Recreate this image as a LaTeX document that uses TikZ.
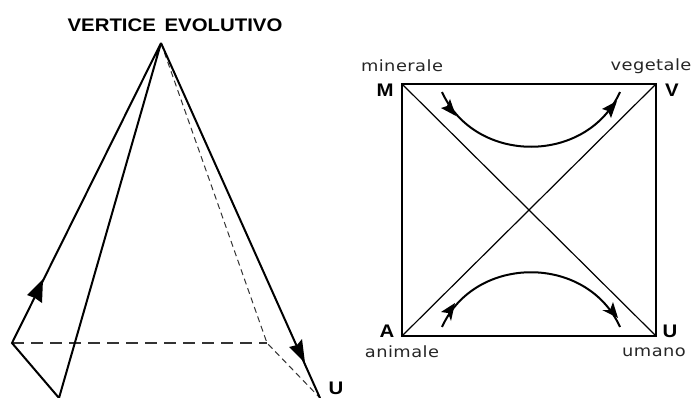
\documentclass[tikz,border=0pt]{standalone}
\usepackage{fontspec}
\setmainfont{Liberation Sans}
\newfontfamily\bigfont[FakeStretch=1.12]{Liberation Sans Bold}
\newfontfamily\smallfont[FakeStretch=1.15,LetterSpace=3]{DejaVu Sans}
\tikzset{
 x=1pt,y=-1pt,
 thick line/.style={line width=2pt,line join=miter},
 thin line/.style={line width=1.2pt},
 dash long/.style={line width=1.1pt,dash pattern=on 12pt off 7pt,black!80},
 dash short/.style={line width=1pt,dash pattern=on 6pt off 4pt,black!80},
 headfill/.style={fill=black,draw=none},
 small label/.style={font=\smallfont\fontsize{15.5pt}{16pt}\selectfont,inner sep=0pt,text=black!85},
 big label/.style={font=\bigfont\fontsize{18.2pt}{19pt}\selectfont,inner sep=0pt},
}
\begin{document}
\begin{tikzpicture}
\useasboundingbox (0,0) rectangle (692,398);
% pyramid
\coordinate (apex) at (161,43);
\coordinate (left) at (12,343);
\coordinate (front) at (59,398);
\coordinate (back) at (267,343);
\coordinate (right) at (320,398);
\draw[dash long] (left) -- (back);
\draw[dash short] (apex) -- (back) -- (right);
\draw[thick line] (front) -- (left) -- (apex) -- (front);
\draw[thick line] (apex) -- (right);
\fill[headfill] (43,279) -- (27,295) -- (35,298) -- (42,303) -- cycle;
\fill[headfill] (305,363) -- (289,347) -- (297,345) -- (302,339) -- cycle;
\node[big label] (title) at (175,25) {VERTICE\hspace{3pt} EVOLUTIVO};
\node[big label] (ubottom) at (336,388) {U};
% square
\coordinate (M) at (402,84);
\coordinate (V) at (656,84);
\coordinate (A) at (402,336);
\coordinate (Us) at (656,336);
\draw[thick line] (M) -- (V) -- (Us) -- (A) -- cycle;
\draw[thin line] (M) -- (Us);
\draw[thin line] (A) -- (V);
\node[big label] (lm) at (385,90) {M};
\node[big label] (lv) at (672,90) {V};
\node[big label] (la2) at (387,331) {A};
\node[big label] (lu) at (670,331) {U};
\node[small label] (minerale) at (402,66) {minerale};
\node[small label] (vegetale) at (651,66) {vegetale};
\node[small label] (animale) at (402,352) {animale};
\node[small label] (umano) at (654,352) {umano};
% arcs
\coordinate (t1) at (442,92);
\coordinate (t2) at (620,92);
\coordinate (b1) at (442,327);
\coordinate (b2) at (620,327);
\draw[thick line] (t1) .. controls (475,165) and (587,165) .. (t2);
\draw[thick line] (b1) .. controls (475,254) and (587,254) .. (b2);
\fill[headfill] (456,116) -- (441,108) -- (447,106) -- (450,99) -- cycle;
\fill[headfill] (617,101) -- (602,109) -- (608,111) -- (611,118) -- cycle;
\fill[headfill] (455,303) -- (441,312) -- (448,313) -- (451,321) -- cycle;
\fill[headfill] (618,318) -- (602,310) -- (610,310) -- (613,302) -- cycle;
\end{tikzpicture}
\end{document}
